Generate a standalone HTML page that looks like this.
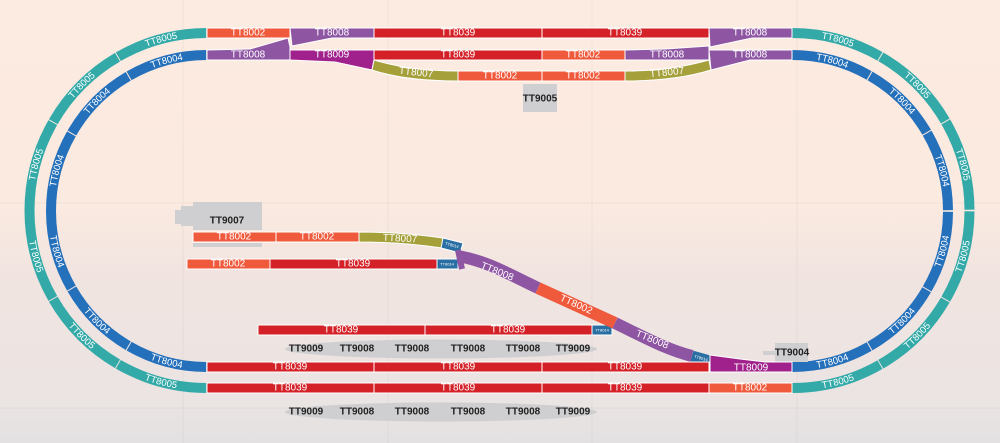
<!DOCTYPE html>
<html><head><meta charset="utf-8"><style>
html,body{margin:0;padding:0;width:1000px;height:443px;overflow:hidden}
svg{display:block}
text{font-family:"Liberation Sans",sans-serif}
.w{fill:#fff;font-size:10px;text-anchor:middle;dominant-baseline:central}
.s{fill:#fff;font-size:4px;text-anchor:middle;dominant-baseline:central}
.k{fill:#222;font-size:10px;font-weight:bold;text-anchor:middle;dominant-baseline:central}
.r{stroke:#fff;stroke-width:1}
</style></head><body>
<svg width="1000" height="443" viewBox="0 0 1000 443">
<defs>
<linearGradient id="bg" x1="0" y1="0" x2="0" y2="1">
<stop offset="0" stop-color="#fcebe1"/><stop offset="0.45" stop-color="#fbeae0"/>
<stop offset="0.62" stop-color="#f1e4e0"/><stop offset="0.9" stop-color="#ebe4e3"/><stop offset="1" stop-color="#e3e1e2"/>
</linearGradient>
<path id="oLT" d="M29.5,210.5 A177.5,177.5 0 0 1 207,33"/>
<path id="oLB" d="M29.5,210.5 A177.5,177.5 0 0 0 207,388"/>
<path id="oRT" d="M792,33 A177.5,177.5 0 0 1 969.5,210.5"/>
<path id="oRB" d="M792,388 A177.5,177.5 0 0 0 969.5,210.5"/>
<path id="iLT" d="M51,211 A156,156 0 0 1 207,55"/>
<path id="iLB" d="M51,211 A156,156 0 0 0 207,367"/>
<path id="iRT" d="M792,55 A156,156 0 0 1 948,211"/>
<path id="iRB" d="M792,367 A156,156 0 0 0 948,211"/>
<path id="m8a" d="M455,261 C490,264 508,274 538,288"/>
<path id="m2" d="M538,288 L615,323"/>
<path id="m8b" d="M615,323 C650,340 668,350 692,356"/>
</defs>
<rect width="1000" height="443" fill="url(#bg)"/>
<g stroke="#000" stroke-opacity="0.04" stroke-width="1">
<line x1="183" y1="0" x2="183" y2="443"/><line x1="388" y1="0" x2="388" y2="443"/>
<line x1="592" y1="0" x2="592" y2="443"/><line x1="797" y1="0" x2="797" y2="443"/>
<line x1="0" y1="203" x2="1000" y2="203"/><line x1="0" y1="408" x2="1000" y2="408"/>
</g>
<!-- loops -->
<g fill="none" stroke-width="10">
<g stroke="#33aaa8" stroke-dasharray="92 0.94">
<use href="#oLT"/><use href="#oLB"/><use href="#oRT"/><use href="#oRB"/></g>
<g stroke="#2570bb" stroke-dasharray="80.7 1">
<use href="#iLT"/><use href="#iLB"/><use href="#iRT"/><use href="#iRB"/></g>
</g>
<g fill="#fff" font-size="9.5" text-anchor="middle" dominant-baseline="central">
<text><textPath href="#oLT" startOffset="16.7%">TT8005</textPath></text><text><textPath href="#oLT" startOffset="50%">TT8005</textPath></text><text><textPath href="#oLT" startOffset="83.3%">TT8005</textPath></text>
<text><textPath href="#oLB" startOffset="16.7%">TT8005</textPath></text><text><textPath href="#oLB" startOffset="50%">TT8005</textPath></text><text><textPath href="#oLB" startOffset="83.3%">TT8005</textPath></text>
<text><textPath href="#oRT" startOffset="16.7%">TT8005</textPath></text><text><textPath href="#oRT" startOffset="50%">TT8005</textPath></text><text><textPath href="#oRT" startOffset="83.3%">TT8005</textPath></text>
<text><textPath href="#oRB" startOffset="16.7%">TT8005</textPath></text><text><textPath href="#oRB" startOffset="50%">TT8005</textPath></text><text><textPath href="#oRB" startOffset="83.3%">TT8005</textPath></text>
<text><textPath href="#iLT" startOffset="16.7%">TT8004</textPath></text><text><textPath href="#iLT" startOffset="50%">TT8004</textPath></text><text><textPath href="#iLT" startOffset="83.3%">TT8004</textPath></text>
<text><textPath href="#iLB" startOffset="16.7%">TT8004</textPath></text><text><textPath href="#iLB" startOffset="50%">TT8004</textPath></text><text><textPath href="#iLB" startOffset="83.3%">TT8004</textPath></text>
<text><textPath href="#iRT" startOffset="16.7%">TT8004</textPath></text><text><textPath href="#iRT" startOffset="50%">TT8004</textPath></text><text><textPath href="#iRT" startOffset="83.3%">TT8004</textPath></text>
<text><textPath href="#iRB" startOffset="16.7%">TT8004</textPath></text><text><textPath href="#iRB" startOffset="50%">TT8004</textPath></text><text><textPath href="#iRB" startOffset="83.3%">TT8004</textPath></text>
</g>
<!-- gray boxes -->
<g fill="#cfcfd1">
<rect x="523" y="84" width="34" height="28"/>
<rect x="193" y="202" width="69" height="28"/><rect x="175" y="210" width="20" height="14"/><rect x="181" y="206" width="14" height="20"/>
<rect x="193" y="243" width="69" height="4"/>
<rect x="775" y="343" width="33" height="19"/><rect x="763" y="351" width="14" height="4"/>
<ellipse cx="441" cy="349" rx="156" ry="9.5"/>
<ellipse cx="441" cy="412" rx="156" ry="9.5"/>
</g>
<text class="k" x="540" y="99">TT9005</text>
<text class="k" x="227" y="221">TT9007</text>
<text class="k" x="792" y="353">TT9004</text>
<g class="k">
<text class="k" x="306" y="349">TT9009</text><text class="k" x="357" y="349">TT9008</text><text class="k" x="412" y="349">TT9008</text><text class="k" x="468" y="349">TT9008</text><text class="k" x="523" y="349">TT9008</text><text class="k" x="573" y="349">TT9009</text>
<text class="k" x="306" y="412">TT9009</text><text class="k" x="357" y="412">TT9008</text><text class="k" x="412" y="412">TT9008</text><text class="k" x="468" y="412">TT9008</text><text class="k" x="523" y="412">TT9008</text><text class="k" x="573" y="412">TT9009</text>
</g>
<!-- top rows -->
<g class="r">
<rect x="207" y="28" width="83" height="10" fill="#f05a3c"/>
<polygon points="290,28 374,28 374,38 332,38 292,46" fill="#8e55a3"/>
<rect x="374" y="28" width="168" height="10" fill="#d42128"/>
<rect x="542" y="28" width="167" height="10" fill="#d42128"/>
<polygon points="709,28 792,28 792,38 752,38 710,47" fill="#8e55a3"/>
<polygon points="207,50 250,49 288,38 290,47 290,60 207,60" fill="#8e55a3"/>
<polygon points="290,50 374,50 374,60 372,70 335,62 290,60" fill="#a0208c"/>
<rect x="374" y="50" width="168" height="10" fill="#d42128"/>
<rect x="542" y="50" width="83" height="10" fill="#f05a3c"/>
<polygon points="625,50 665,49 709,46 709,60 625,60" fill="#8e55a3"/>
<polygon points="709,50 792,50 792,60 750,60 711,70" fill="#8e55a3"/>
<path d="M374,60 Q410,71 458,71 L458,81 Q405,81 372,70 Z" fill="#a5a03a"/>
<rect x="458" y="71" width="84" height="10" fill="#f05a3c"/>
<rect x="542" y="71" width="83" height="10" fill="#f05a3c"/>
<path d="M625,71 Q670,71 709,60 L711,70 Q675,81 625,81 Z" fill="#a5a03a"/>
</g>
<g class="w">
<text class="w" x="248" y="33">TT8002</text><text class="w" x="332" y="33">TT8008</text><text class="w" x="458" y="33">TT8039</text><text class="w" x="625" y="33">TT8039</text><text class="w" x="750" y="33">TT8008</text>
<text class="w" x="248" y="55">TT8008</text><text class="w" x="332" y="55">TT8009</text><text class="w" x="458" y="55">TT8039</text><text class="w" x="583" y="55">TT8002</text><text class="w" x="667" y="55">TT8008</text><text class="w" x="750" y="55">TT8008</text>
<text class="w" x="416" y="73" transform="rotate(6 416 73)">TT8007</text><text class="w" x="500" y="76">TT8002</text><text class="w" x="583" y="76">TT8002</text><text class="w" x="667" y="73" transform="rotate(-6 667 73)">TT8007</text>
</g>
<!-- middle -->
<g class="r">
<rect x="193" y="232" width="83" height="10" fill="#f05a3c"/>
<rect x="276" y="232" width="83" height="10" fill="#f05a3c"/>
<path d="M359,232 Q400,232 443,238 L442,248 Q400,242 359,242 Z" fill="#a5a03a"/>
<polygon points="443,238 463,243 460,253 441,248" fill="#2a6fa3"/>
<rect x="187" y="259" width="83" height="10" fill="#f05a3c"/>
<rect x="270" y="259" width="167" height="10" fill="#d42128"/>
<rect x="437" y="259" width="21" height="10" fill="#2a6fa3"/>
<rect x="258" y="325" width="167" height="10" fill="#d42128"/>
<rect x="425" y="325" width="167" height="10" fill="#d42128"/>
<rect x="592" y="325" width="20" height="10" fill="#2a6fa3"/>
</g>
<g fill="none" stroke-width="12">
<path d="M458,256 C490,262 508,274 538,288" stroke="#8e55a3"/>
<path d="M538,288 L615,323" stroke="#f05a3c"/>
<path d="M615,323 C650,340 668,350 692,356" stroke="#8e55a3"/>
<path d="M692,356 L710,361" stroke="#2a6fa3" stroke-width="11"/>
</g>
<path d="M458,250 L462,269" stroke="#8e55a3" stroke-width="6"/>
<polygon points="710,355 740,359 765,362 792,362 792,372 710,372" fill="#a0208c" class="r"/>
<g class="w">
<text class="w" x="234" y="237">TT8002</text><text class="w" x="317" y="237">TT8002</text><text class="w" x="400" y="239" transform="rotate(3 400 239)">TT8007</text>
<text class="w" x="228" y="264">TT8002</text><text class="w" x="353" y="264">TT8039</text>
<text class="w" x="341" y="330">TT8039</text><text class="w" x="508" y="330">TT8039</text>
<text class="w" x="497" y="272" transform="rotate(22 497 272)">TT8008</text>
<text class="w" x="576" y="305" transform="rotate(24 576 305)">TT8002</text>
<text class="w" x="652" y="340" transform="rotate(22 652 340)">TT8008</text>
<text class="w" x="751" y="368">TT8009</text>
</g>
<text class="s" x="452" y="245" transform="rotate(14 452 245)">TT8014</text>
<text class="s" x="447" y="264">TT8014</text>
<text class="s" x="602" y="330">TT8014</text>
<text class="s" x="701" y="358" transform="rotate(15 701 358)">TT8014</text>
<!-- bottom rows -->
<g class="r">
<rect x="207" y="362" width="167" height="10" fill="#d42128"/>
<rect x="374" y="362" width="168" height="10" fill="#d42128"/>
<rect x="542" y="362" width="167" height="10" fill="#d42128"/>
<rect x="207" y="383" width="167" height="10" fill="#d42128"/>
<rect x="374" y="383" width="168" height="10" fill="#d42128"/>
<rect x="542" y="383" width="167" height="10" fill="#d42128"/>
<rect x="709" y="383" width="83" height="10" fill="#f05a3c"/>
</g>
<g class="w">
<text class="w" x="290" y="367">TT8039</text><text class="w" x="458" y="367">TT8039</text><text class="w" x="625" y="367">TT8039</text>
<text class="w" x="290" y="388">TT8039</text><text class="w" x="458" y="388">TT8039</text><text class="w" x="625" y="388">TT8039</text><text class="w" x="750" y="388">TT8002</text>
</g>
</svg>
</body></html>
